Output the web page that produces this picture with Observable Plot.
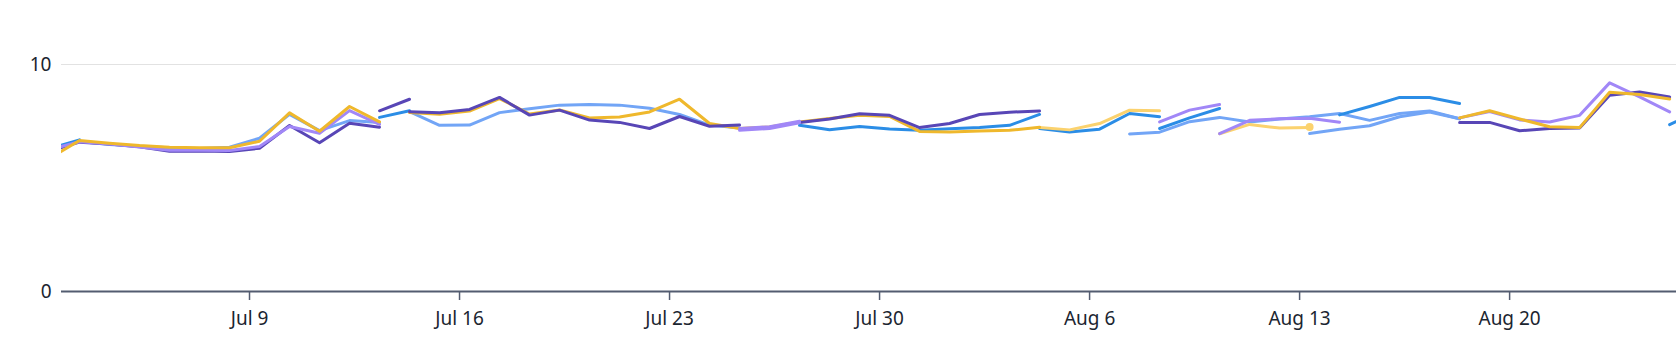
<!DOCTYPE html>
<html>
<head>
<meta charset="utf-8">
<script src="https://cdn.jsdelivr.net/npm/d3@7"></script>
<script src="https://cdn.jsdelivr.net/npm/@observablehq/plot@0.6"></script>
<style>
  html, body { margin: 0; padding: 0; background: #ffffff; }
</style>
</head>
<body>
<div id="chart"></div>
<script>
// ---- Tick labels ----
const tickDates = ["2023-07-09", "2023-07-16", "2023-07-23", "2023-07-30", "2023-08-06", "2023-08-13", "2023-08-20"];
const tickLabels = ["Jul 9", "Jul 16", "Jul 23", "Jul 30", "Aug 6", "Aug 13", "Aug 20"];
const yTicks = [0, 10];

// ---- Series values (daily, one value per day from the start date) ----
const darkPurple1 = [6.19, 6.58, 6.5, 6.38, 6.18, 6.19, 6.17, 6.31, 7.31, 6.55, 7.41, 7.24];
const darkPurple2 = [7.96, 8.47];
const darkPurple3 = [7.92, 7.87, 8.02, 8.55, 7.77, 7.99, 7.55, 7.45, 7.18, 7.71, 7.28, 7.33];
const darkPurple4 = [7.45, 7.6, 7.83, 7.76, 7.22, 7.4, 7.8, 7.9, 7.95];
const darkPurple5 = [7.45, 7.45, 7.08, 7.18, 7.2, 8.65, 8.79, 8.57];

const gold1 = [5.86, 6.65, 6.53, 6.43, 6.36, 6.33, 6.33, 6.62, 7.87, 7.06, 8.15, 7.47];
const gold2 = [7.88, 7.81, 7.95, 8.5, 7.82, 8.0, 7.64, 7.69, 7.91, 8.47, 7.4, 7.18, 7.25, 7.47, 7.62, 7.76, 7.71, 7.05, 7.03, 7.07, 7.1, 7.24];
const gold3 = [7.65, 7.96, 7.6, 7.26, 7.22, 8.78, 8.68, 8.48];

const blue1 = [6.29, 6.68];
const blue2 = [7.67, 7.96];
const blue3 = [7.32, 7.13, 7.27, 7.16, 7.1, 7.17, 7.23, 7.32, 7.8];
const blue4 = [7.18, 7.03, 7.15, 7.84, 7.7];
const blue5 = [7.18, 7.65, 8.06];
const blue6 = [7.78, 8.15, 8.55, 8.55, 8.28];
const blue7 = [7.35, 7.97];

const lightBlue1 = [6.61, 6.48, 6.4, 6.33, 6.3, 6.36, 6.75, 7.8, 7.09, 7.53, 7.44];
const lightBlue2 = [7.92, 7.32, 7.33, 7.88, 8.05, 8.21, 8.24, 8.21, 8.07, 7.8, 7.33, 7.2];
const lightBlue3 = [6.94, 7.02, 7.48, 7.67, 7.47, 7.6, 7.7, 7.84, 7.54, 7.84, 7.95, 7.61];
const lightBlue4 = [6.96, 7.15, 7.3, 7.7, 7.91, 7.61];

const lightPurple1 = [6.25, 6.6, 6.5, 6.36, 6.22, 6.22, 6.21, 6.39, 7.27, 6.97, 7.97, 7.36];
const lightPurple2 = [7.18, 7.26, 7.5];
const lightPurple3 = [7.1, 7.18, 7.43];
const lightPurple4 = [7.47, 7.99, 8.24];
const lightPurple5 = [6.95, 7.54, 7.61, 7.63, 7.46];
const lightPurple6 = [7.65, 7.93, 7.56, 7.47, 7.76, 9.19, 8.57, 7.91];

const paleYellow1 = [7.22, 7.12, 7.4, 7.99, 7.96];
const paleYellow2 = [6.95, 7.36, 7.2, 7.22];
const paleYellowPoint = [7.25];

// ---- Segment table: [name, colour key, start date, values] (drawing order) ----
const segments = [
  ["lightBlue1", "lightBlue", "2023-07-03", lightBlue1],
  ["lightBlue2", "lightBlue", "2023-07-14", lightBlue2],
  ["lightBlue3", "lightBlue", "2023-08-07", lightBlue3],
  ["lightBlue4", "lightBlue", "2023-08-13", lightBlue4],
  ["blue1", "blue", "2023-07-02", blue1],
  ["blue2", "blue", "2023-07-13", blue2],
  ["blue3", "blue", "2023-07-27", blue3],
  ["blue4", "blue", "2023-08-04", blue4],
  ["blue5", "blue", "2023-08-08", blue5],
  ["blue6", "blue", "2023-08-14", blue6],
  ["blue7", "blue", "2023-08-25", blue7],
  ["paleYellow1", "paleYellow", "2023-08-04", paleYellow1],
  ["paleYellow2", "paleYellow", "2023-08-10", paleYellow2],
  ["gold2", "gold", "2023-07-14", gold2],
  ["darkPurple1", "darkPurple", "2023-07-02", darkPurple1],
  ["darkPurple2", "darkPurple", "2023-07-13", darkPurple2],
  ["darkPurple3", "darkPurple", "2023-07-14", darkPurple3],
  ["darkPurple4", "darkPurple", "2023-07-27", darkPurple4],
  ["darkPurple5", "darkPurple", "2023-08-18", darkPurple5],
  ["lightPurple1", "lightPurple", "2023-07-02", lightPurple1],
  ["lightPurple4", "lightPurple", "2023-08-08", lightPurple4],
  ["lightPurple5", "lightPurple", "2023-08-10", lightPurple5],
  ["lightPurple6", "lightPurple", "2023-08-18", lightPurple6],
  ["gold1", "gold", "2023-07-02", gold1],
  ["gold3", "gold", "2023-08-18", gold3],
  ["lightPurple2", "lightPurple", "2023-07-25", lightPurple2],
  ["lightPurple3", "lightPurple", "2023-07-25", lightPurple3]
];
const points = [["paleYellowPoint", "paleYellow", "2023-08-13", paleYellowPoint]];

const palette = {
  darkPurple: "#5846b6",
  gold: "#efb82c",
  blue: "#2b8de6",
  lightBlue: "#72a5f6",
  lightPurple: "#a187f7",
  paleYellow: "#fbd26e"
};

const DAY = 864e5;
function toRows(list) {
  const rows = [];
  for (const [name, key, start, values] of list) {
    const t0 = Date.parse(start + "T08:00:00Z");
    values.forEach((v, i) => rows.push({series: name, colour: palette[key], date: new Date(t0 + i * DAY), value: v}));
  }
  return rows;
}
const lineRows = toRows(segments);
const pointRows = toRows(points);

const xDomain = [new Date("2023-07-02T17:36:00Z"), new Date("2023-08-25T13:30:00Z")];
const ticks = tickDates.map((s) => new Date(s + "T00:00:00Z"));
const labelFor = (d) => tickLabels[ticks.findIndex((t) => +t === +d)];

const chart = Plot.plot({
  width: 1676,
  height: 360,
  marginLeft: 61,
  marginRight: 0,
  marginTop: 64,
  marginBottom: 69,
  style: {fontFamily: "'Noto Sans', sans-serif", fontSize: "19px", color: "#1b2530", background: "#ffffff"},
  x: {type: "utc", domain: xDomain, label: null},
  y: {domain: [0, 10], label: null},
  color: {type: "identity"},
  marks: [
    Plot.ruleY([10], {stroke: "#e2e2e2", strokeWidth: 1}),
    Plot.line(lineRows, {x: "date", y: "value", z: "series", stroke: "colour", strokeWidth: 3, clip: true}),
    Plot.dot(pointRows, {x: "date", y: "value", fill: "colour", r: 4, clip: true}),
    Plot.ruleY([0], {stroke: "#535c70", strokeWidth: 2}),
    Plot.axisX({ticks, tickFormat: labelFor, tickSize: 9, tickPadding: 11, stroke: "#535c70", strokeWidth: 1.5, fill: "#1b2530", label: null}),
    Plot.axisY({ticks: yTicks, tickSize: 0, tickPadding: 10, fill: "#1b2530", label: null})
  ]
});
document.getElementById("chart").appendChild(chart);
</script>
</body>
</html>
